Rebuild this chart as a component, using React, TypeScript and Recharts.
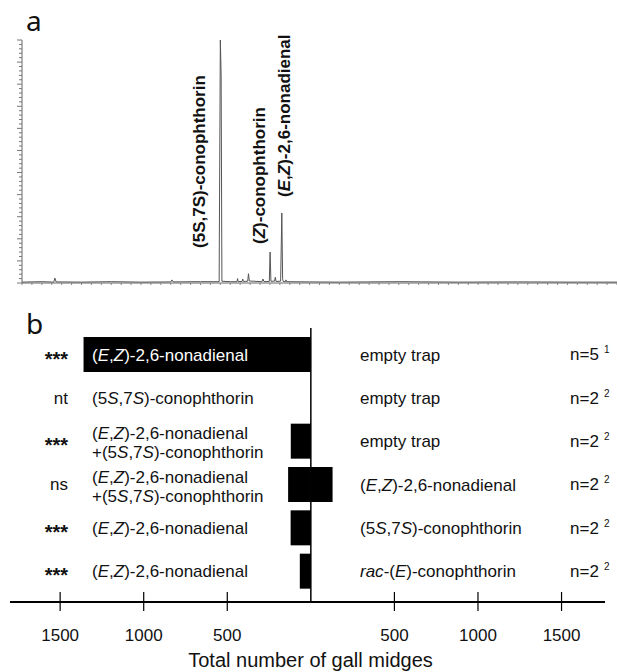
import React from 'react'
import { LineChart, Line, BarChart, Bar, XAxis, YAxis, ReferenceLine, ReferenceDot } from 'recharts'

const FONT = '"Liberation Sans", Arial, sans-serif'
const INK = '#111'

// panel a: GC trace (retention time, min / detector response)
const retentionTimes = [
  5.0, 6.0, 6.6, 6.66, 6.72, 8.0, 9.5, 11.0, 12.5, 12.56, 12.62, 14.0, 14.94, 15.0, 15.04, 15.08,
  15.5, 15.84, 15.87, 15.9, 16.1, 16.13, 16.16, 16.38, 16.42, 16.46, 17.1, 17.15, 17.2, 17.47,
  17.51, 17.55, 17.73, 17.77, 17.81, 18.04, 18.1, 18.14, 18.17, 18.28, 18.31, 18.34, 19.5, 21.0,
  24.0, 27.0, 30.0, 33.0, 35.0,
]
const responses = [
  4, 6, 4, 22, 5, 4, 6, 4, 5, 14, 5, 6, 6, 1100, 940, 8,
  6, 6, 20, 6, 7, 18, 7, 8, 42, 9, 6, 18, 6, 7,
  140, 8, 8, 26, 7, 8, 317, 20, 7, 6, 14, 6, 5, 4,
  6, 4, 5, 4, 4,
]
const peakNames = ['(5S,7S)-conophthorin', '(_Z_)-conophthorin', '(_E_,_Z_)-2,6-nonadienal']
const peakTimes = [15.0, 17.51, 18.1]

// label placement for the peak names (response units / px)
const peakLabelBase = [154, 172, 385]
const peakLabelDx = [-14, -4, 9]

// panel b: trap catches
const significance = ['***', 'nt', '***', 'ns', '***', '***']
const leftLabels = [
  '(_E_,_Z_)-2,6-nonadienal',
  '(5_S_,7_S_)-conophthorin',
  '(_E_,_Z_)-2,6-nonadienal|+(5_S_,7_S_)-conophthorin',
  '(_E_,_Z_)-2,6-nonadienal|+(5_S_,7_S_)-conophthorin',
  '(_E_,_Z_)-2,6-nonadienal',
  '(_E_,_Z_)-2,6-nonadienal',
]
const rightLabels = [
  'empty trap',
  'empty trap',
  'empty trap',
  '(_E_,_Z_)-2,6-nonadienal',
  '(5_S_,7_S_)-conophthorin',
  '_rac_-(_E_)-conophthorin',
]
const replicates = ['n=5', 'n=2', 'n=2', 'n=2', 'n=2', 'n=2']
const footnotes = ['1', '2', '2', '2', '2', '2']
const leftCounts = [1360, 0, 120, 136, 121, 66]
const rightCounts = [0, 0, 0, 130, 0, 0]
const countTicks = [-1500, -1000, -500, 500, 1000, 1500]

const trace = retentionTimes.map((t, i) => ({ t, v: responses[i] }))
const rows = leftLabels.map((_, i) => ({ id: i, left: -leftCounts[i], right: rightCounts[i] }))

const timeTicks = Array.from({ length: 61 }, (_, i) => 5 + i * 0.5)
const responseTicks = Array.from({ length: 56 }, (_, i) => i * 20)

// "_x_" marks italic parts
function rich(s: string) {
  return s.split('_').map((part, i) =>
    i % 2 ? <tspan key={i} fontStyle="italic">{part}</tspan> : <tspan key={i}>{part}</tspan>
  )
}

function ResponseTick({ x, y, payload }: any) {
  const len = payload.value % 100 === 0 ? 5 : 3
  return <line x1={x - len} x2={x} y1={y} y2={y} stroke="#777" />
}

function TimeTick({ x, y }: any) {
  return <line x1={x} x2={x} y1={y} y2={y + 2} stroke="#888" />
}

function PeakLabel({ viewBox, text, dx }: any) {
  const X = viewBox.x + dx
  const Y = viewBox.y
  return (
    <text x={X} y={Y} transform={`rotate(-90 ${X} ${Y})`} fontFamily={FONT} fontWeight="bold"
      fontSize={17} fill={INK}>
      {rich(text)}
    </text>
  )
}

function CountTick({ x, y, payload }: any) {
  return (
    <g>
      <line x1={x} x2={x} y1={y - 10} y2={y + 9} stroke="#000" strokeWidth={1.2} />
      <text x={x} y={y + 33} textAnchor="middle" dominantBaseline="central" fontSize={17}
        fontFamily={FONT} fill={INK}>
        {Math.abs(payload.value)}
      </text>
    </g>
  )
}

function RowTick({ y, payload }: any) {
  const i = Number(payload.value)
  const lines = leftLabels[i].split('|')
  const onBar = leftCounts[i] > 1000
  const stars = significance[i] === '***'
  const t = { fontSize: 17, fontFamily: FONT, dominantBaseline: 'central' as const }
  return (
    <g>
      <text x={68} y={y + (stars ? 4 : 0)} textAnchor="end" fill={INK} {...t} fontSize={stars ? 20 : 17}
        fontWeight={stars ? 'bold' : 'normal'}>
        {significance[i]}
      </text>
      {lines.map((l, k) => (
        <text key={k} x={92} y={lines.length > 1 ? y - 8 + k * 19 : y} fill={onBar ? '#fff' : INK} {...t}>
          {rich(l)}
        </text>
      ))}
      <text x={360} y={y} fill={INK} {...t}>{rich(rightLabels[i])}</text>
      <text x={570} y={y} fill={INK} {...t}>{replicates[i]}</text>
      <text x={604} y={y - 5} fill={INK} {...t} fontSize={10}>{footnotes[i]}</text>
    </g>
  )
}

function AxisTitle({ viewBox }: any) {
  const { x, y, width } = viewBox
  return (
    <text x={x + width / 2 + 3} y={y + 58} textAnchor="middle" dominantBaseline="central"
      fontSize={20} fontFamily={FONT} fill={INK}>
      Total number of gall midges
    </text>
  )
}

const panelLetter = { position: 'absolute' as const, left: 26, fontSize: 28, lineHeight: '28px', fontFamily: '"Noto Sans", sans-serif', color: INK }

export default function App() {
  return (
    <div style={{ position: 'absolute', left: 0, top: 0, width: 617, height: 672, background: '#fff' }}>
      <div style={{ ...panelLetter, top: 6 }}>a</div>
      <div style={{ ...panelLetter, top: 309 }}>b</div>

      <div style={{ position: 'absolute', left: 0, top: 0 }}>
        <LineChart width={617} height={300} data={trace} margin={{ top: 40, right: 0, bottom: 0, left: 21 }}>
          <XAxis dataKey="t" type="number" domain={[5, 35]} ticks={timeTicks} interval={0} height={17}
            tickSize={0} tickMargin={0} tickLine={false} tick={<TimeTick />} axisLine={{ stroke: '#666' }} />
          <YAxis type="number" domain={[0, 1100]} ticks={responseTicks} interval={0} width={1}
            tickSize={0} tickMargin={0} tickLine={false} tick={<ResponseTick />} axisLine={{ stroke: '#666' }} />
          <Line dataKey="v" type="linear" stroke="#555" strokeWidth={1} dot={false} isAnimationActive={false} />
          {peakNames.map((name, i) => (
            <ReferenceDot key={name} x={peakTimes[i]} y={peakLabelBase[i]} r={1} fill="none" stroke="none"
              label={<PeakLabel text={name} dx={peakLabelDx[i]} />} />
          ))}
        </LineChart>
      </div>

      <div style={{ position: 'absolute', left: 0, top: 300 }}>
        <BarChart width={617} height={372} data={rows} layout="vertical" stackOffset="sign"
          margin={{ top: 28, right: 12, bottom: 0, left: 9 }}>
          <XAxis type="number" domain={[-1800, 1760]} ticks={countTicks} interval={0} height={70}
            tickSize={0} tickMargin={0} tickLine={false} tick={<CountTick />}
            axisLine={{ stroke: '#000', strokeWidth: 2 }} label={<AxisTitle />} />
          <Bar dataKey="left" stackId="s" fill="#000" barSize={35} isAnimationActive={false} />
          <Bar dataKey="right" stackId="s" fill="#000" barSize={35} isAnimationActive={false} />
          <ReferenceLine x={0} stroke="#000" strokeWidth={1.5} />
          <YAxis type="category" dataKey="id" width={1} interval={0} padding={{ top: 5, bottom: 9 }}
            tickSize={0} tickMargin={0} tickLine={false} axisLine={false} tick={<RowTick />} />
        </BarChart>
      </div>
    </div>
  )
}
